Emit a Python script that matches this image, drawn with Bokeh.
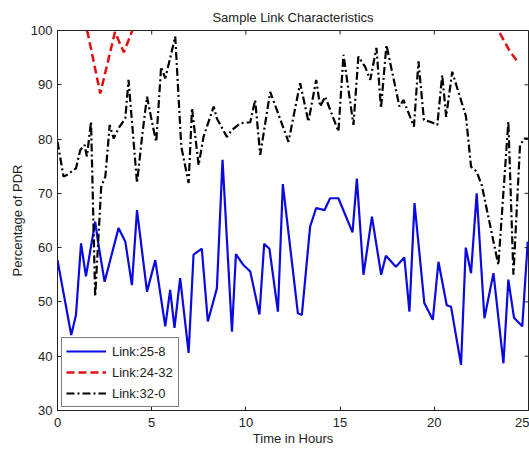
import math
from bokeh.plotting import figure
from bokeh.models import Range1d, Legend, LegendItem, FixedTicker
from bokeh.embed import file_html
from bokeh.resources import INLINE

nan = float("nan")

# Link:25-8 (blue, solid)
hours_25_8 = [0.0, 0.73, 0.98, 1.25, 1.51, 2.0, 2.15, 2.5, 3.24, 3.6, 3.95, 4.22, 4.75, 5.19,
              5.72, 5.98, 6.21, 6.51, 6.96, 7.22, 7.66, 7.98, 8.46, 8.76, 9.26, 9.47, 9.87,
              10.23, 10.72, 10.97, 11.25, 11.7, 11.96, 12.76, 12.97, 13.41, 13.73, 14.17,
              14.47, 14.91, 15.66, 15.89, 16.24, 16.69, 17.18, 17.43, 17.96, 18.41, 18.68,
              18.95, 19.47, 19.92, 20.22, 20.66, 20.89, 21.42, 21.67, 21.95, 22.25, 22.66,
              23.14, 23.67, 23.93, 24.23, 24.67, 24.96]
pdr_25_8 = [57.7, 43.9, 47.6, 60.8, 54.7, 64.8, 61.1, 53.7, 63.6, 61.1, 53.1, 66.9, 51.9, 57.7,
            45.5, 52.2, 45.2, 54.4, 40.6, 58.7, 59.8, 46.4, 52.5, 76.2, 44.5, 58.8, 56.8,
            55.6, 47.7, 60.7, 59.8, 48.2, 71.7, 47.9, 47.6, 63.9, 67.3, 66.9,
            69.1, 69.1, 62.8, 72.7, 55.0, 65.7, 55.0, 58.5, 56.5, 58.2, 48.2,
            68.2, 49.8, 46.7, 57.4, 49.4, 49.1, 38.4, 60.0, 55.3, 70.0, 47.0,
            55.3, 38.7, 54.1, 47.1, 45.5, 61.1]

# Link:24-32 (red, dashed) -- above 100 between the visible parts
hours_24_32 = [1.3, 1.6, 2.27, 3.05, 3.52, 4.2, nan, 23.2, 23.4, 24.02, 24.46]
pdr_24_32 = [102.0, 99.6, 88.4, 99.7, 96.0, 102.0, nan, 101.5, 100.0, 96.1, 94.1]

# Link:32-0 (black, dash-dot)
hours_32_0 = [0.0, 0.32, 0.5, 0.98, 1.21, 1.44, 1.56, 1.78, 2.0, 2.32, 2.54, 2.77, 2.98, 3.24,
              3.6, 3.77, 4.22, 4.52, 4.75, 5.1, 5.24, 5.5, 5.72, 5.98, 6.25, 6.57, 6.96,
              7.14, 7.49, 7.75, 8.29, 8.46, 8.99, 9.26, 9.7, 10.23, 10.49, 10.76, 11.29,
              12.26, 12.88, 13.32, 13.73, 13.94, 14.21, 14.91, 15.18, 15.71, 15.97, 16.33,
              16.6, 16.93, 17.17, 17.46, 18.15, 18.36, 18.92, 19.16, 19.45, 19.78, 20.16,
              20.42, 20.63, 20.95, 21.68, 21.95, 22.25, 22.52, 23.4, 23.93, 24.2, 24.55,
              24.78, 25.0]
pdr_32_0 = [79.5, 73.1, 73.4, 74.6, 78.0, 78.9, 76.8, 83.2, 51.0, 71.2, 73.1, 82.6, 80.1, 82.0,
            83.8, 90.9, 71.9, 81.4, 87.8, 81.7, 79.5, 93.3, 91.2, 94.9, 98.9, 78.6, 71.9,
            85.7, 75.2, 80.4, 86.0, 83.8, 80.4, 81.7, 82.9, 83.1, 87.2, 77.1, 88.7,
            79.5, 90.3, 83.2, 90.9, 86.0, 87.8, 81.4, 95.5, 82.6, 95.2, 93.3,
            90.9, 96.8, 85.7, 97.3, 86.0, 87.2, 82.3, 94.3, 83.5, 83.2, 82.6,
            91.8, 84.1, 92.4, 84.2, 74.9, 74.0, 71.5, 56.8, 83.2, 55.0, 78.9,
            80.1, 80.1]

x_ticks = [0, 5, 10, 15, 20, 25]
y_ticks = [30, 40, 50, 60, 70, 80, 90, 100]
x_min, x_max = 0, 25
y_min, y_max = 30, 100

FONT = "Liberation Sans"
DARK = "#222222"

p = figure(width=529, height=449, output_backend="svg", toolbar_location=None,
           x_range=Range1d(x_min, x_max), y_range=Range1d(y_min, y_max),
           min_border_left=57, min_border_right=1, min_border_top=30, min_border_bottom=39,
           title="Sample Link Characteristics")
p.xgrid.visible = False
p.ygrid.visible = False
p.outline_line_color = DARK
p.background_fill_color = "white"
p.border_fill_color = "white"

p.title.text_font = FONT
p.title.text_font_size = "13px"
p.title.text_font_style = "normal"
p.title.text_color = DARK
p.title.align = "center"
p.title.vertical_align = "middle"
p.title.standoff = 10

r_blue = p.line(hours_25_8, pdr_25_8, line_color="#0a0ae0", line_width=2.2)
r_red = p.line(hours_24_32, pdr_24_32, line_color="#e01010", line_width=2.5, line_dash="8 4")
r_black = p.line(hours_32_0, pdr_32_0, line_color="black", line_width=2.2, line_dash="8 3 2 3")

# mirrored inward ticks on the right and top edges of the box
p.ray(x=[x_max] * len(y_ticks), y=y_ticks, length=4, length_units="screen",
      angle=math.pi, line_color=DARK, line_width=1)
p.ray(x=x_ticks, y=[y_max] * len(x_ticks), length=4, length_units="screen",
      angle=-math.pi / 2, line_color=DARK, line_width=1)


def style(ax, ticks):
    ax.ticker = FixedTicker(ticks=ticks)
    ax.major_tick_in = 4
    ax.major_tick_out = 0
    ax.minor_tick_in = 0
    ax.minor_tick_out = 0
    ax.axis_line_color = DARK
    ax.major_tick_line_color = DARK
    ax.major_label_text_font = FONT
    ax.major_label_text_font_size = "13px"
    ax.major_label_text_color = DARK
    ax.axis_label_text_font = FONT
    ax.axis_label_text_font_size = "13px"
    ax.axis_label_text_font_style = "normal"
    ax.axis_label_text_color = DARK


xb = p.xaxis[0]
yl = p.yaxis[0]
style(xb, x_ticks)
style(yl, y_ticks)
xb.axis_label = "Time in Hours"
yl.axis_label = "Percentage of PDR"
xb.major_label_standoff = 7
xb.axis_label_standoff = 1
yl.major_label_standoff = 5
yl.axis_label_standoff = 3

legend = Legend(items=[LegendItem(label="Link:25-8", renderers=[r_blue]),
                       LegendItem(label="Link:24-32", renderers=[r_red]),
                       LegendItem(label="Link:32-0", renderers=[r_black])],
                location=(4, 3))
legend.label_text_font = FONT
legend.label_text_font_size = "13px"
legend.label_text_color = DARK
legend.border_line_color = "black"
legend.border_line_width = 1
legend.background_fill_color = "white"
legend.background_fill_alpha = 1
legend.padding = 4
legend.spacing = 3
legend.glyph_height = 18
legend.glyph_width = 40
legend.label_standoff = 6
legend.label_height = 18
legend.label_width = 62
legend.title_standoff = 0
legend.margin = 0
p.add_layout(legend)

open("out.html", "w").write(file_html(p, INLINE))
